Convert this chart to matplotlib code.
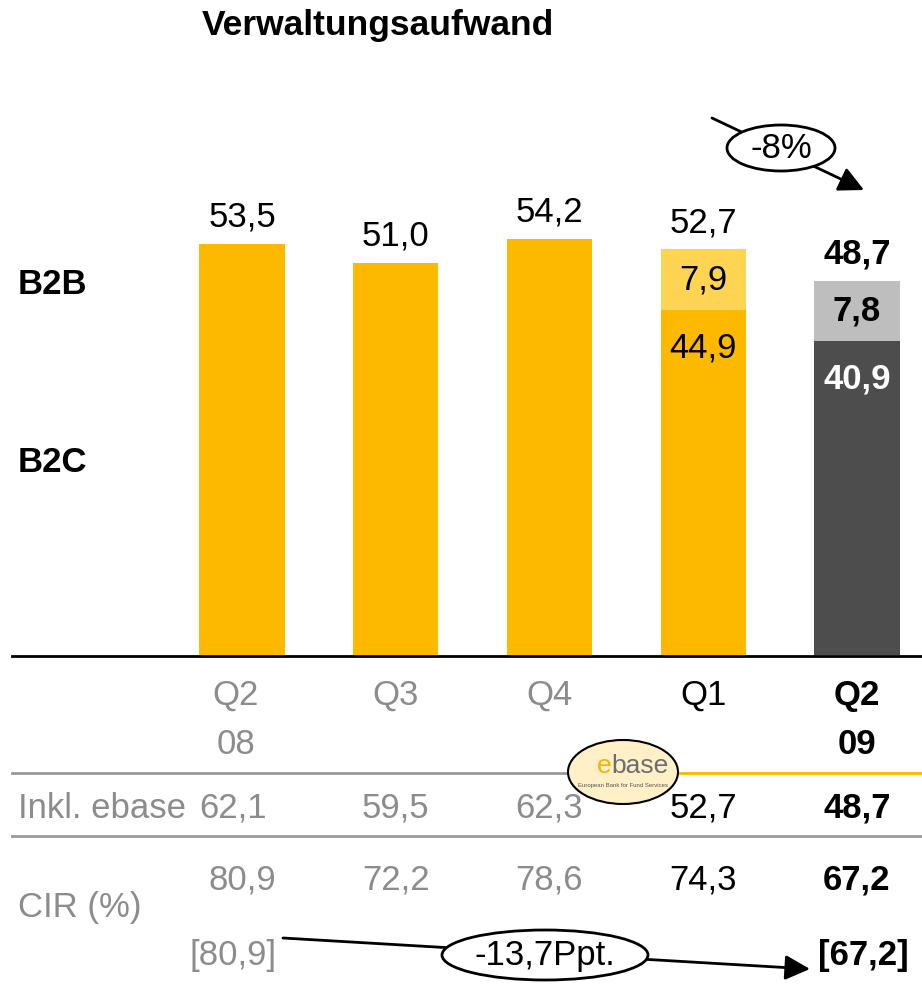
import matplotlib
matplotlib.use("Agg")
import matplotlib.pyplot as plt
from matplotlib.patches import Ellipse
from matplotlib.transforms import blended_transform_factory

plt.rcParams['font.family'] = ['Liberation Sans', 'DejaVu Sans']

# data
quarters = ["Q2", "Q3", "Q4", "Q1", "Q2"]
years = ["08", "", "", "", "09"]
totals = [53.5, 51.0, 54.2, 52.7, 48.7]
b2c = [53.5, 51.0, 54.2, 44.9, 40.9]
b2b = [0, 0, 0, 7.9, 7.8]
inkl_ebase = ["62,1", "59,5", "62,3", "52,7", "48,7"]
cir = ["80,9", "72,2", "78,6", "74,3", "67,2"]
cir_old = "[80,9]"
cir_new = "[67,2]"
change_total = "-8%"
change_cir = "-13,7Ppt."

W, H = 922, 986
ORANGE = "#FDB900"
LIGHT = "#FFD452"
GREY_BAR = "#BEBEBE"
DARK = "#4D4D4D"
GREY_TXT = "#8C8C8C"
FS = 25

fig = plt.figure(figsize=(W / 100, H / 100), dpi=100)

# bar axes: baseline at y=655 px, 7.68 px per unit
base_px, top_px = 655, 100
ax = fig.add_axes([0, 1 - base_px / H, 1, (base_px - top_px) / H])
ax.set_xlim(-1.574, 4.423)
ax.set_ylim(0, (base_px - top_px) / 7.68)
ax.axis('off')

x = list(range(len(quarters)))
low_cols = [ORANGE, ORANGE, ORANGE, ORANGE, DARK]
up_cols = [ORANGE, ORANGE, ORANGE, LIGHT, GREY_BAR]
ax.bar(x, b2c, width=0.555, color=low_cols)
ax.bar(x, b2b, bottom=b2c, width=0.555, color=up_cols)

def fmt(v):
    return f"{v:.1f}".replace(".", ",")

for i in x:
    bold = i == 4
    ax.annotate(fmt(totals[i]), (i, totals[i]), xytext=(0, 19.5), textcoords='offset points',
                ha='center', va='center', fontsize=FS, fontweight='bold' if bold else 'normal')
    if b2b[i] > 0:
        ax.text(i, b2c[i] + b2b[i] / 2, fmt(b2b[i]), ha='center', va='center', fontsize=FS,
                fontweight='bold' if bold else 'normal')
        ax.annotate(fmt(b2c[i]), (i, b2c[i]), xytext=(0, -27.5), textcoords='offset points',
                    ha='center', va='center', fontsize=FS,
                    color='white' if bold else 'black', fontweight='bold' if bold else 'normal')

# overlay in pixel coordinates
ov = fig.add_axes([0, 0, 1, 1], facecolor='none')
ov.set_xlim(0, W)
ov.set_ylim(H, 0)
ov.axis('off')
tr = blended_transform_factory(ax.transData, ov.transData)

ov.text(378, 25, "Verwaltungsaufwand", ha='center', va='center', fontsize=25.5, fontweight='bold')
ov.text(18, 285, "B2B", ha='left', va='center', fontsize=FS, fontweight='bold')
ov.text(18, 462, "B2C", ha='left', va='center', fontsize=FS, fontweight='bold')

# lines
ov.plot([12, W], [656, 656], color='black', lw=2)
ov.plot([12, 570], [773, 773], color='#999999', lw=2)
ov.plot([676, W], [773, 773], color=ORANGE, lw=2)
ov.plot([12, W], [836, 836], color='#999999', lw=2)

def style(i):
    if i < 3:
        return dict(color=GREY_TXT, fontweight='normal')
    if i == 3:
        return dict(color='black', fontweight='normal')
    return dict(color='black', fontweight='bold')

for i in x:
    dx = -0.04 if i == 0 else 0
    ov.text(i + dx, 695, quarters[i], transform=tr, ha='center', va='center', fontsize=FS, **style(i))
    if years[i]:
        ov.text(i + dx, 745, years[i], transform=tr, ha='center', va='center', fontsize=FS, **style(i))
    ov.text(i - 0.06 if i == 0 else i, 808, inkl_ebase[i], transform=tr, ha='center', va='center',
            fontsize=FS, **style(i))
    ov.text(i, 880, cir[i], transform=tr, ha='center', va='center', fontsize=FS, **style(i))

ov.text(18, 808, "Inkl. ebase", ha='left', va='center', fontsize=FS, color=GREY_TXT)
ov.text(18, 907, "CIR (%)", ha='left', va='center', fontsize=FS, color=GREY_TXT)
ov.text(-0.055, 955, cir_old, transform=tr, ha='center', va='center', fontsize=FS, color=GREY_TXT)
ov.text(4.04, 955, cir_new, transform=tr, ha='center', va='center', fontsize=FS,
        color='black', fontweight='bold')

# ebase logo
ov.add_patch(Ellipse((623, 772), 110, 64, facecolor='#FFF0C8', edgecolor='black', lw=1.5, zorder=5))
ov.text(611, 766, "e", ha='right', va='center', fontsize=19, color='#F5B400', zorder=6)
ov.text(611, 766, "base", ha='left', va='center', fontsize=19, color='#6E6E6E', zorder=6)
ov.text(623, 786, "European Bank for Fund Services", ha='center', va='center', fontsize=4.3,
        color='#555555', zorder=6)

# change arrows
ov.annotate('', xy=(864, 190), xytext=(712, 118),
            arrowprops=dict(arrowstyle='-|>', lw=2, color='black', mutation_scale=38, shrinkA=0, shrinkB=0))
ov.add_patch(Ellipse((781, 148), 108, 46, facecolor='white', edgecolor='black', lw=2, zorder=5))
ov.text(781, 149, change_total, ha='center', va='center', fontsize=FS, zorder=6)

ov.annotate('', xy=(810, 969), xytext=(283, 938),
            arrowprops=dict(arrowstyle='-|>', lw=2, color='black', mutation_scale=38, shrinkA=0, shrinkB=0))
ov.add_patch(Ellipse((545, 955), 206, 50, facecolor='white', edgecolor='black', lw=2, zorder=5))
ov.text(545, 956, change_cir, ha='center', va='center', fontsize=FS, zorder=6)

fig.savefig("out.png", dpi=100)
